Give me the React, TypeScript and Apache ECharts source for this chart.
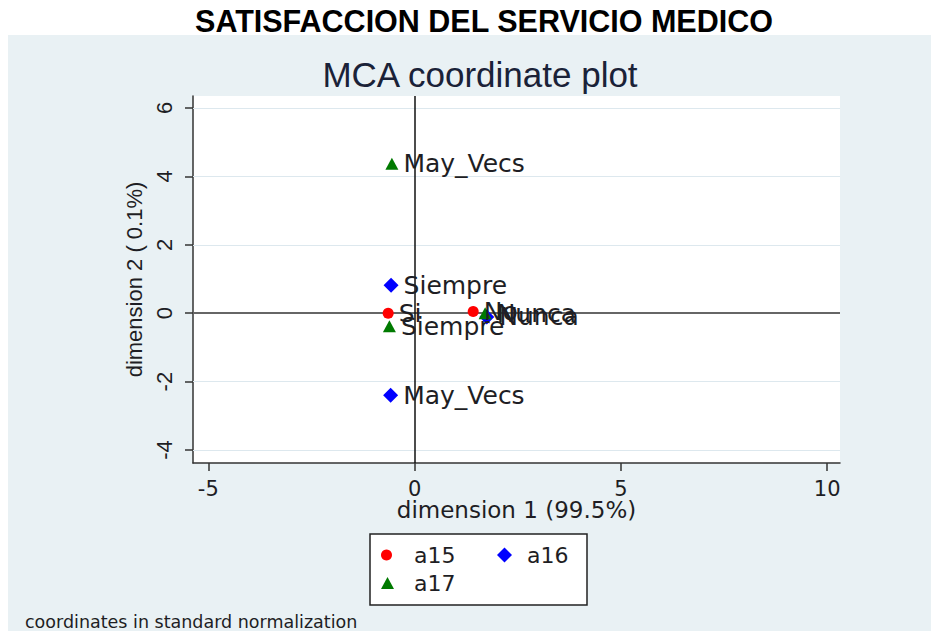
import React, { useEffect, useRef } from 'react';
import * as echarts from 'echarts';

const a15Names = ['Si', 'No'];
const a15X = [-0.64, 1.42];
const a15Y = [0.0, 0.05];
const a16Names = ['Siempre', 'May_Vecs', 'Nunca'];
const a16X = [-0.57, -0.58, 1.75];
const a16Y = [0.82, -2.4, -0.11];
const a17Names = ['May_Vecs', 'Siempre', 'Nunca'];
const a17X = [-0.55, -0.61, 1.71];
const a17Y = [4.37, -0.38, 0.0];
const xTicks = [-5, 0, 5, 10];
const yTicks = [-4, -2, 0, 2, 4, 6];

const H = 'DejaVu Sans';
const V = 'Liberation Sans';
const TXT = '#1e1e24';

const mk = (names: string[], xs: number[], ys: number[]) =>
  names.map((n, i) => ({ name: n, value: [xs[i], ys[i]] }));

export default function App() {
  const ref = useRef<HTMLDivElement>(null);
  useEffect(() => {
    if (!ref.current) return;
    const chart = echarts.init(ref.current, undefined, { renderer: 'svg' });
    const label = {
      show: true,
      position: 'right',
      distance: 5,
      formatter: '{b}',
      color: TXT,
      fontFamily: H,
      fontSize: 25,
    };
    const legendText = { color: TXT, fontFamily: H, fontSize: 22, lineHeight: 24, padding: [0, 0, 0, 17] };
    chart.setOption({
      animation: false,
      graphic: [
        { type: 'rect', z: -10, silent: true, shape: { x: 8, y: 35, width: 923, height: 596 }, style: { fill: '#e9f1f4' } },
        { type: 'rect', z: 0, silent: true, shape: { x: 370, y: 534, width: 217, height: 71 }, style: { fill: '#fff', stroke: '#222', lineWidth: 1.5 } },
        { type: 'text', silent: true, x: 484, y: 21, style: { text: 'SATISFACCION DEL SERVICIO MEDICO', fontFamily: V, fontWeight: 'bold', fontSize: 30.5, fill: '#000', align: 'center', verticalAlign: 'middle' } },
        { type: 'text', silent: true, x: 480, y: 74, style: { text: 'MCA coordinate plot', fontFamily: V, fontSize: 35, fill: '#1a2238', align: 'center', verticalAlign: 'middle' } },
        { type: 'text', silent: true, x: 25, y: 622, style: { text: 'coordinates in standard normalization', fontFamily: H, fontSize: 17.5, fill: TXT, align: 'left', verticalAlign: 'middle' } },
      ],
      legend: [
        { data: [{ name: 'a15', icon: 'circle' }], left: 381, top: 543, padding: 0, itemWidth: 11, itemHeight: 11, textStyle: legendText, z: 5 },
        { data: [{ name: 'a16', icon: 'diamond' }], left: 497, top: 543, padding: 0, itemWidth: 15, itemHeight: 15, textStyle: { ...legendText, padding: [0, 0, 0, 10] }, z: 5 },
        { data: [{ name: 'a17', icon: 'triangle' }], left: 381, top: 571, padding: 0, itemWidth: 13, itemHeight: 12, textStyle: { ...legendText, padding: [0, 0, 0, 15] }, z: 5 },
      ],
      grid: { left: 193, right: 91, top: 96, bottom: 168, show: true, backgroundColor: '#fff', borderWidth: 0 },
      xAxis: {
        type: 'value',
        min: -5.37,
        max: 10.31,
        splitLine: { show: false },
        axisLine: { show: true, onZero: false, lineStyle: { color: '#333', width: 1.5 } },
        axisTick: { show: true, length: 8, customValues: xTicks, lineStyle: { color: '#333', width: 1.5 } },
        axisLabel: { customValues: xTicks, margin: 17, color: TXT, fontFamily: H, fontSize: 21, lineHeight: 17 },
        name: 'dimension 1 (99.5%)',
        nameLocation: 'middle',
        nameGap: 36,
        nameMoveOverlap: false,
        nameTextStyle: { color: TXT, fontFamily: H, fontSize: 23, lineHeight: 22 },
      },
      yAxis: {
        type: 'value',
        min: -4.38,
        max: 6.35,
        splitLine: { show: false },
        axisLine: { show: true, onZero: false, lineStyle: { color: '#333', width: 1.5 } },
        axisTick: { show: true, length: 8, customValues: yTicks, lineStyle: { color: '#333', width: 1.5 } },
        axisLabel: { customValues: yTicks, rotate: 90, margin: 18, color: TXT, fontFamily: V, fontSize: 22 },
        name: 'dimension 2 ( 0.1%)',
        nameLocation: 'middle',
        nameRotate: 90,
        nameGap: 47,
        nameTextStyle: { color: TXT, fontFamily: V, fontSize: 22 },
      },
      series: [
        {
          name: 'a15',
          type: 'scatter',
          symbol: 'circle',
          symbolSize: 11,
          itemStyle: { color: '#ff0000', opacity: 1 },
          label,
          data: mk(a15Names, a15X, a15Y),
          markLine: {
            silent: true,
            symbol: 'none',
            label: { show: false },
            z: 1,
            data: [
              ...yTicks.filter((v) => v !== 0).map((v) => ({ yAxis: v, lineStyle: { color: '#dde8ee', width: 1, type: 'solid' } })),
              { yAxis: 0, lineStyle: { color: '#666', width: 2, type: 'solid' } },
              { xAxis: 0, lineStyle: { color: '#111', width: 1.5, type: 'solid' } },
            ],
          },
        },
        {
          name: 'a16',
          type: 'scatter',
          symbol: 'diamond',
          symbolSize: [15, 15],
          itemStyle: { color: '#0000ff', opacity: 1 },
          label,
          data: mk(a16Names, a16X, a16Y),
        },
        {
          name: 'a17',
          type: 'scatter',
          symbol: 'triangle',
          symbolSize: [13, 12],
          itemStyle: { color: '#007a00', opacity: 1 },
          label,
          data: mk(a17Names, a17X, a17Y),
        },
      ],
    });
    return () => chart.dispose();
  }, []);
  return (
    <div
      ref={ref}
      style={{ position: 'fixed', left: 0, top: 0, width: 931, height: 631, background: '#fff' }}
    />
  );
}
